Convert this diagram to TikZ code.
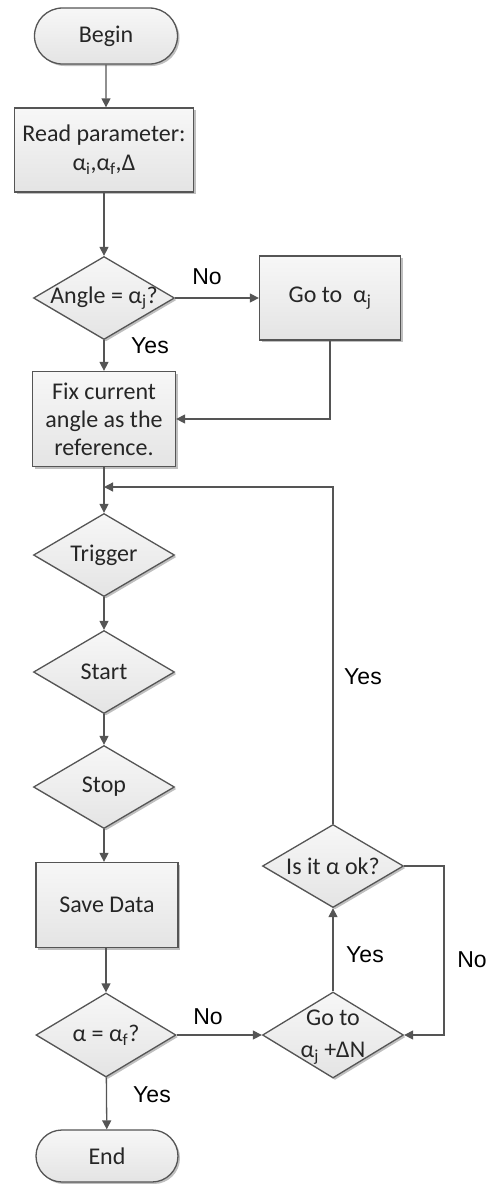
\documentclass[tikz,border=0pt]{standalone}
\usepackage{fontspec}
\setmainfont{Carlito}
\newfontfamily\arialf{Liberation Sans}
\usetikzlibrary{shapes.geometric,shapes.misc,arrows.meta,shadows}
\definecolor{edge}{HTML}{555555}
\definecolor{fillA}{HTML}{F7F7F7}
\definecolor{fillB}{HTML}{E4E4E4}
\newcommand{\dtext}[1]{\makebox[0pt]{#1}}
\tikzset{
  base/.style={draw=edge, line width=1.3pt, top color=fillA, bottom color=fillB,
    drop shadow={shadow xshift=2pt, shadow yshift=-2pt, opacity=0.25, fill=black},
    font=\fontsize{24}{28}\selectfont, text=black!85, inner sep=0pt, align=center},
  term/.style={base, rounded rectangle, minimum width=143pt, minimum height=56pt},
  proc/.style={base, rectangle, minimum width=142pt, minimum height=85pt},
  dec/.style={base, diamond, minimum width=141pt, minimum height=83pt},
  arr/.style={draw=edge, line width=1.3pt, -{Triangle[width=9pt,length=9pt]}},
  lbl/.style={font=\arialf\fontsize{23}{27}\selectfont, text=black},
}
\begin{document}
\begin{tikzpicture}[x=1pt, y=-1pt]
\useasboundingbox (0,0) rectangle (493,1184);
\node[term] (begin) at (106,36) {Begin};
\node[proc, minimum width=179pt, minimum height=84pt] (read) at (104,150) {Read parameter:\\[1pt] α\textsubscript{i},α\textsubscript{f},Δ};
\node[dec] (ang) at (104,298) {\dtext{Angle = α\textsubscript{j}?}};
\node[proc, minimum width=141pt, minimum height=84pt] (goto) at (330,298) {Go to \ α\textsubscript{j}};
\node[proc, minimum width=143pt, minimum height=95pt] (fix) at (104,419) {Fix current\\angle as the\\reference.};
\node[dec] (trig) at (104,555) {\dtext{Trigger}};
\node[dec] (start) at (104,672) {\dtext{Start}};
\node[dec] (stop) at (104,787) {\dtext{Stop}};
\node[proc, minimum width=142pt, minimum height=85pt] (save) at (107,905) {Save Data};
\node[dec, minimum width=140pt, minimum height=84pt] (alpha) at (106,1035) {\dtext{α = α\textsubscript{f}?}};
\node[term, minimum width=142pt, minimum height=52pt] (end) at (107,1156) {End};
\node[dec] (isok) at (333,866) {\dtext{Is it α ok?}};
\node[dec, minimum height=86pt] (goN) at (333,1035) {\dtext{\renewcommand\arraystretch{1.15}\begin{tabular}{@{}c@{}}Go to\\ α\textsubscript{j} +ΔN\end{tabular}}};

\coordinate (join) at (104,487);
\coordinate (rt) at (444,866);

\draw[arr] (begin) -- (read.north -| begin);
\draw[arr] (read.south -| ang) -- (ang);
\draw[arr] (ang) -- (goto);
\draw[arr] (ang) -- (fix);
\draw[arr] (goto.south) |- (fix.east);
\draw[arr] (fix) -- (trig);
\draw[arr] (isok.north) |- (join);
\draw[arr] (trig) -- (start);
\draw[arr] (start) -- (stop);
\draw[arr] (stop.south) -- (save.north -| stop.south);
\draw[arr] (save.south -| alpha) -- (alpha);
\draw[arr] (alpha) -- (end);
\draw[arr] (alpha) -- (goN);
\draw[arr] (goN) -- (isok);
\draw[arr] (isok.east) -- (rt) |- (goN.east);

\node[lbl] (l1) at (207,277) {No};
\node[lbl] (l2) at (150,346) {Yes};
\node[lbl] (l3) at (363,677) {Yes};
\node[lbl] (l4) at (365,955) {Yes};
\node[lbl] (l5) at (472,960) {No};
\node[lbl] (l6) at (208,1017) {No};
\node[lbl] (l7) at (152,1095) {Yes};
\end{tikzpicture}
\end{document}
